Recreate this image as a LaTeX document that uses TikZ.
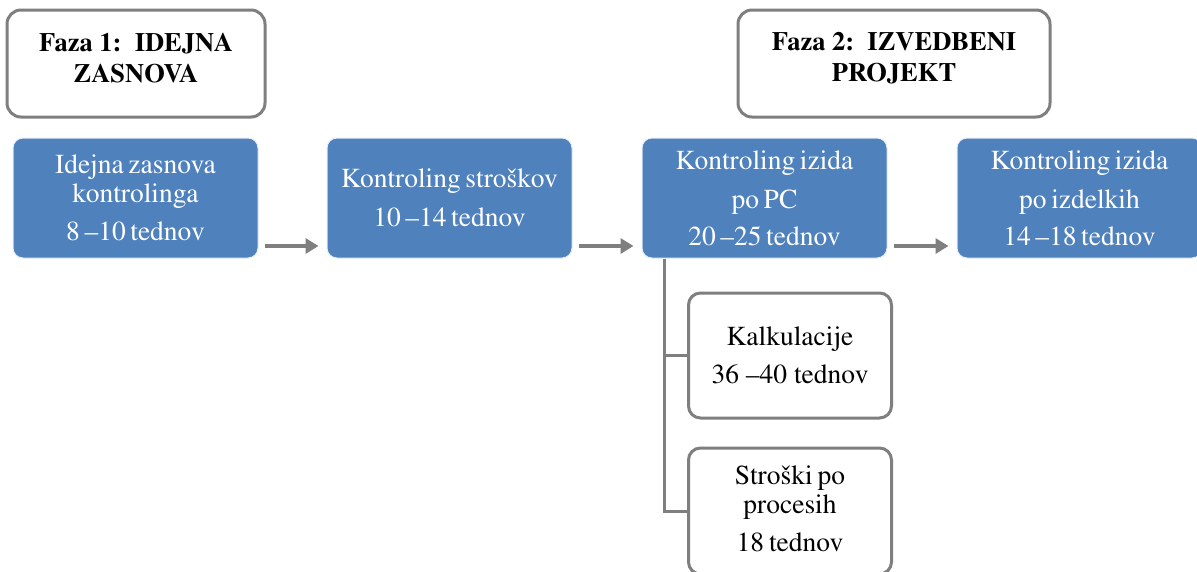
\documentclass[tikz,border=0pt]{standalone}
\usepackage[T1]{fontenc}
\renewcommand{\rmdefault}{ptm}
\usetikzlibrary{arrows.meta,calc}
\definecolor{boxblue}{HTML}{4F81BD}
\definecolor{linegray}{HTML}{7F7F7F}
% narrow interword spaces used inside the boxes
\newcommand{\narrowspaces}{\spaceskip=4.6pt\relax}
\newcommand{\mediumspaces}{\spaceskip=5pt\relax}
\tikzset{
  phasebox/.style={draw=linegray, line width=3pt, rounded corners=14pt, fill=white,
    minimum width=258pt, minimum height=107pt, inner sep=0pt},
  phasetext/.style={align=center, inner sep=0pt,
    font=\fontsize{26.5pt}{31pt}\selectfont\bfseries},
  stagebox/.style={draw=white!85!boxblue, line width=1pt, rounded corners=10pt, fill=boxblue,
    minimum width=245pt, minimum height=120pt, inner sep=0pt, align=center, text=white,
    font={\fontsize{27.5pt}{29pt}\selectfont\narrowspaces}},
  subbox/.style={draw=linegray, line width=3pt, rounded corners=12pt, fill=white,
    minimum width=203pt, minimum height=125pt, inner sep=0pt, align=center,
    font=\fontsize{27.5pt}{29pt}\selectfont},
  subtext/.style={align=center, inner sep=0pt,
    font={\fontsize{27.5pt}{29pt}\selectfont\mediumspaces}},
  flow/.style={draw=linegray, line width=3.5pt, -{Triangle[length=13pt,width=15pt]}},
  branch/.style={draw=linegray, line width=3pt},
}
\begin{document}
\begin{tikzpicture}[x=1pt,y=-1pt]
\useasboundingbox (0,0) rectangle (1197,571);
\fill[white] (0,0) rectangle (1197,571);
\clip (0,0) rectangle (1197,571);

% phase headers
\node[phasebox] (f1) at (136,63.5) {};
\node[phasetext] (f1t) at (136,57.75) {Faza 1:\ \ IDEJNA\\ZASNOVA};
\node[phasebox, minimum width=312pt] (f2) at (894,63.5) {};
\node[phasetext] (f2t) at (894,57.75) {Faza 2:\ \ IZVEDBENI\\PROJEKT};

% main stages
\node[stagebox] (b1) at (135.5,198) {Idejna zasnova\\kontrolinga\\[9pt]8 --10 tednov};
\node[stagebox] (b2) at (449.5,198) {Kontroling stro\v{s}kov\\[10pt]10 --14 tednov};
\node[stagebox] (b3) at (764.5,198) {Kontroling izida\\[10pt]po PC\\[8pt]20 --25 tednov};
\node[stagebox] (b4) at (1079.5,198) {Kontroling izida\\[10pt]po izdelkih\\[8pt]14 --18 tednov};

% flow arrows
\draw[flow] ([yshift=-48pt,xshift=6pt]b1.east) -- ([yshift=-48pt,xshift=-8pt]b2.west);
\draw[flow] ([yshift=-48pt,xshift=6pt]b2.east) -- ([yshift=-48pt,xshift=-8pt]b3.west);
\draw[flow] ([yshift=-48pt,xshift=6pt]b3.east) -- ([yshift=-48pt,xshift=-8pt]b4.west);

% sub-activities of the PC stage
\node[subbox] (k) at (790,355.5) {Kalkulacije\\[9pt]36 --40 tednov};
\node[subbox, minimum height=126pt] (s) at (790,511) {};
\node[subtext] (st) at (790,508.5) {Stro\v{s}ki po\\procesih\\[9pt]18 tednov};

\coordinate (trunk) at ($(b3.south west)+(23,0)$);
\draw[branch] (trunk) |- (k.west);
\draw[branch] (trunk) |- (s.west);
\end{tikzpicture}
\end{document}
